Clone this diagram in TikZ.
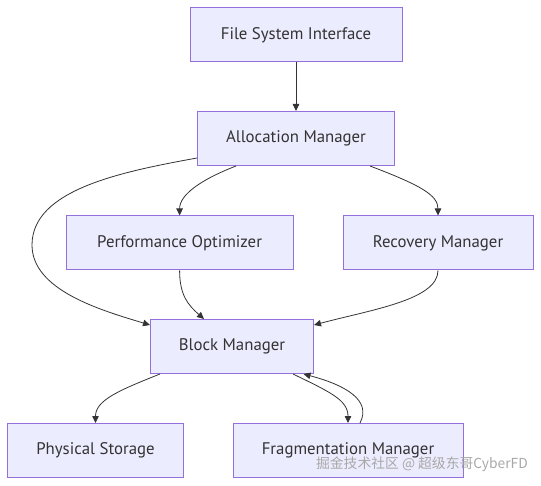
\documentclass[tikz,border=0pt]{standalone}
\usepackage{fontspec}
\setmainfont{PT Sans}
\newfontfamily\cjkfont{Noto Sans CJK SC}
\usepackage{tikz}
\usetikzlibrary{arrows.meta, positioning, calc}
\definecolor{BoxFill}{HTML}{ECECFF}
\definecolor{BoxLine}{HTML}{9370DB}
\definecolor{EdgeGray}{HTML}{333333}
\definecolor{MarkGray}{HTML}{A8A8A8}

\begin{document}
\begin{tikzpicture}[x=1pt, y=-1pt,
    block/.style={draw=BoxLine, fill=BoxFill, line width=1pt, minimum height=54pt,
                  inner sep=0pt, text=EdgeGray, font=\fontsize{16.8}{20}\selectfont},
    flow/.style={draw=EdgeGray, line width=0.8pt, -{Triangle[length=7pt, width=6.5pt]}}]
\useasboundingbox (0,0) rectangle (541,486);

% boxes
\node[block, minimum width=212pt] (fsi)   at (296,35)    {File System Interface};
\node[block, minimum width=197pt] (alloc) at (296,138.5) {Allocation Manager};
\node[block, minimum width=227pt] (perf)  at (179.6,243) {Performance Optimizer};
\node[block, minimum width=190pt] (recov) at (438,243)   {Recovery Manager};
\node[block, minimum width=163pt] (blk)   at (232,346.5) {Block Manager};
\node[block, minimum width=176pt] (phys)  at (95.5,450.5) {Physical Storage};
\node[block, minimum width=230pt] (frag)  at (348,450.5) {Fragmentation Manager};

% connectors
\draw[flow] (fsi) -- (alloc);
\draw[flow] ([yshift=-19.5pt]alloc.west) .. controls (120,172) and (32,190) .. (32,245)
    .. controls (32,290) and (100,310) .. ([yshift=21.5pt]blk.west);
\draw[flow] ([xshift=-60pt]alloc.south) .. controls (200,180) and (179.6,195) .. (perf.north);
\draw[flow] ([xshift=74pt]alloc.south) .. controls (420,185) and (438,195) .. (recov.north);
\draw[flow] (perf.south) .. controls (179.6,295) and (188,305) .. ([xshift=-28pt]blk.north);
\draw[flow] (recov.south) .. controls (438,300) and (370,310) .. ([yshift=21.5pt]blk.east);
\draw[flow] ([xshift=-72pt]blk.south) .. controls (120,390) and (95.5,400) .. (phys.north);
\draw[flow] ([xshift=61pt]blk.south) .. controls (330,392) and (348,400) .. (frag.north);
\draw[flow] ([xshift=12pt]frag.north) .. controls (372,400) and (345,385) .. ([xshift=71.5pt]blk.south);

% watermark
\node[text=MarkGray, font=\cjkfont\fontsize{13.8}{15}\selectfont, anchor=east, inner sep=0pt]
    (mark) at (528,464) {掘金技术社区 @ 超级东哥CyberFD};
\end{tikzpicture}
\end{document}
